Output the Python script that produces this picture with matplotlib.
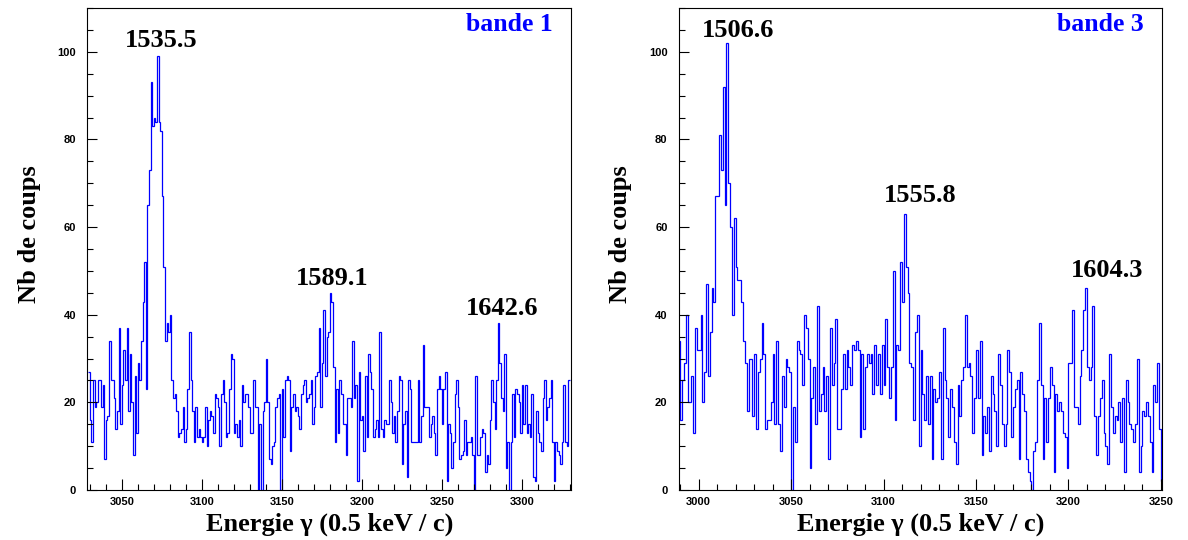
import matplotlib
matplotlib.use("Agg")
import matplotlib.pyplot as plt
import numpy as np
from matplotlib.ticker import MultipleLocator

# counts per channel (1 channel wide)
left_start = 3029
left_counts = [
    27, 16, 11, 25, 19, 20, 25, 25, 19, 24, 7, 16, 17, 34, 25, 25, 21, 14, 18, 37,
    15, 24, 32, 25, 37, 18, 31, 20, 8, 26, 13, 29, 25, 34, 43,
    52, 23, 65, 73, 93, 83, 85, 84, 99, 84, 82, 67, 51,
    34, 38, 36, 40, 25, 21, 22, 18, 12, 13, 14, 19, 11, 14, 23, 36, 25, 18, 11, 19,
    12, 14, 12, 11, 12, 19, 10, 16, 18, 17, 13, 22, 21, 19, 10, 22, 25, 20, 12, 13,
    23, 31, 30, 13, 15, 12, 16, 10, 24, 20,
    22, 22, 19, 13, 13, 25, 19, 19, 0, 15, 0, 18, 20, 30, 20, 7, 6, 10, 11, 19,
    21, 22, 0, 23, 12, 25, 26, 25, 9, 19, 22, 18, 19, 17, 14, 22, 24, 25, 20, 21,
    22, 25, 15, 19, 26, 27, 37, 19, 29, 41, 26, 35, 36, 45, 43, 28, 11, 23, 13, 25,
    22, 15, 15, 8, 21, 21, 19, 34, 21, 24, 2, 27,
    16, 17, 9, 26, 12, 31, 27, 23, 12, 14, 16, 12, 36, 14, 12, 16, 15, 15, 25, 20,
    13, 17, 11, 18, 26, 25, 6, 15, 18, 3, 25, 23, 11, 11, 11, 11, 25, 11, 17, 33,
    19, 19, 19, 12, 15, 17, 13, 8, 23, 26, 23, 15, 23, 27, 2, 15, 13, 5, 11, 22,
    25, 19, 7, 8, 9,
    16, 8, 11, 11, 12, 8, 0, 26, 8, 8, 12, 14, 13, 4, 8, 6, 16, 25, 20, 14,
    25, 38, 29, 21, 18, 31, 5, 11, 0, 11, 22, 12, 23, 22, 20, 13, 24, 15, 24, 13,
    15, 12, 22, 3, 2, 18, 13, 11, 9, 21, 25, 16, 19, 21, 25, 11, 2, 11, 9, 8,
    6, 11, 24, 11, 10, 25,
]

right_start = 2989
right_counts = [
    34, 16, 25, 29, 40, 20, 20, 26, 13, 37, 32, 32, 40, 20, 27, 47, 26, 36, 46, 43,
    67, 67, 81, 73, 92, 65, 102, 70, 60, 40, 62, 51, 48, 48, 43, 34, 29, 18, 30, 30,
    17, 31, 14, 27, 30, 38, 31, 14, 16, 16, 20, 31, 15, 34, 15, 9,
    26, 19, 30, 28, 27, 0, 19, 11, 34, 32, 31, 24, 40, 37, 30, 5, 21, 28, 15, 42,
    18, 22, 28, 18, 26, 7, 37, 24, 29, 39, 14, 14, 23, 31, 23, 32, 28, 24, 33, 32,
    34, 32, 12, 31, 14, 28, 31, 29, 31, 22, 33, 24,
    31, 22, 33, 24, 39, 28, 21, 28, 50, 16, 33, 32, 52, 43, 63, 51, 45, 29, 28, 16,
    36, 40, 10, 32, 22, 16, 26, 15, 26, 7, 23, 20, 21, 27, 7, 37, 25, 21, 12, 23,
    19, 11, 6, 24, 17, 25, 28, 40, 28, 29, 26, 13, 21,
    32, 21, 34, 8, 17, 13, 19, 9, 26, 22, 18, 10, 31, 24, 15, 10, 15, 32, 27, 12,
    19, 23, 25, 7, 27, 22, 18, 7, 4, 2, 0, 9, 11, 25, 38, 24, 7, 21, 11, 21,
    28, 24, 4, 22, 18, 20, 18, 13, 12, 5, 29, 29, 41, 19, 19, 15,
    26, 32, 41, 46, 28, 25, 28, 42, 17, 8, 17, 21, 25, 13, 10, 6, 31, 19, 13, 17,
    16, 20, 11, 21, 4, 25, 20, 15, 14, 11, 15, 30, 4, 10, 18, 17, 20, 17, 11, 4,
    24, 20, 29, 14, 2,
]

left_peaks = ["1535.5", "1589.1", "1642.6"]
left_peak_pos = [(3074.4, 102.5), (3181.4, 48.3), (3287.7, 41.4)]
right_peaks = ["1506.6", "1555.8", "1604.3"]
right_peak_pos = [(3021.2, 104.8), (3119.6, 67.2), (3220.7, 50.1)]

SERIF = ["Liberation Serif", "DejaVu Serif"]
SANS = ["Liberation Sans", "DejaVu Sans"]


def draw_panel(ax, start, counts, xlim, band, peaks, peak_pos):
    counts = np.asarray(counts, dtype=float)
    edges = start + np.arange(len(counts) + 1)
    ax.stairs(counts, edges, baseline=None, color="blue", linewidth=0.9)
    ax.set_xlim(*xlim)
    ax.set_ylim(0, 110)
    ax.xaxis.set_major_locator(MultipleLocator(50))
    ax.xaxis.set_minor_locator(MultipleLocator(10))
    ax.yaxis.set_major_locator(MultipleLocator(20))
    ax.yaxis.set_minor_locator(MultipleLocator(5))
    ax.tick_params(which="both", direction="in", top=False, right=False,
                   width=0.8, color="black")
    ax.tick_params(axis="x", which="major", length=8, pad=5)
    ax.tick_params(axis="x", which="minor", length=4)
    ax.tick_params(axis="y", which="major", length=7, pad=8)
    ax.tick_params(axis="y", which="minor", length=4)
    for lab in ax.get_xticklabels() + ax.get_yticklabels():
        lab.set_fontfamily(SANS)
        lab.set_fontweight("bold")
        lab.set_fontsize(8)
    for spine in ax.spines.values():
        spine.set_linewidth(0.8)
    ax.set_xlabel("Energie \u03b3 (0.5 keV / c)", fontfamily=SERIF,
                  fontweight="bold", fontsize=19, labelpad=4)
    ax.set_ylabel("Nb de coups", fontfamily=SERIF, fontweight="bold",
                  fontsize=19)
    ax.yaxis.set_label_coords(-0.096, 0.53)
    for text, (x, y) in zip(peaks, peak_pos):
        ax.text(x, y, text, ha="center", va="center", fontfamily=SERIF,
                fontweight="bold", fontsize=19)
    ax.text(0.963, 0.965, band, transform=ax.transAxes, ha="right", va="center",
            color="blue", fontfamily=SERIF, fontweight="bold", fontsize=18.5)


fig = plt.figure(figsize=(11.88, 5.4), dpi=100)
ax1 = fig.add_axes([0.0735, 0.0926, 0.4072, 0.8926])
ax2 = fig.add_axes([0.5713, 0.0926, 0.4068, 0.8926])

draw_panel(ax1, left_start, left_counts, (3028.5, 3330.8), "bande 1",
           left_peaks, left_peak_pos)
draw_panel(ax2, right_start, right_counts, (2989.2, 3250.6), "bande 3",
           right_peaks, right_peak_pos)

fig.savefig("out.png", dpi=100)
